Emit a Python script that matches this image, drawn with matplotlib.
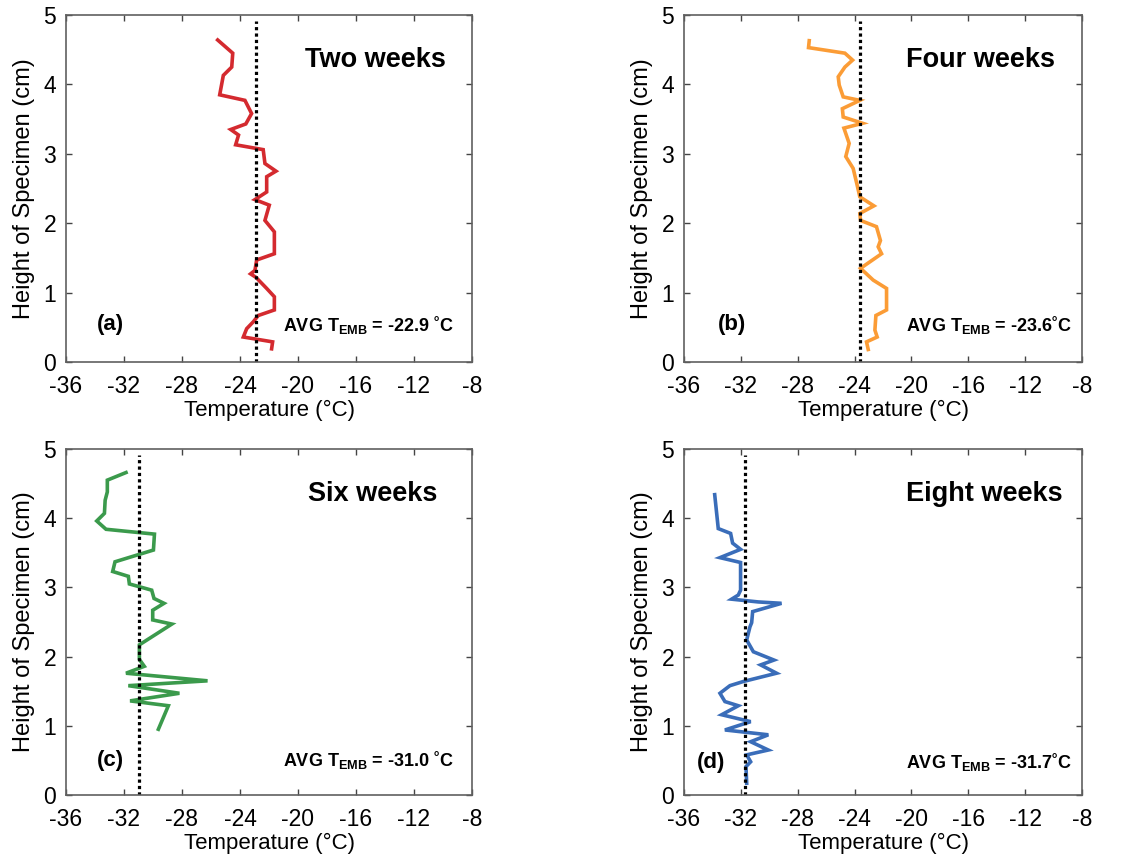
import matplotlib
matplotlib.use("Agg")
import matplotlib.pyplot as plt

plt.rcParams['font.family'] = ['Liberation Sans', 'DejaVu Sans']
plt.rcParams['mathtext.fontset'] = 'custom'
plt.rcParams['mathtext.rm'] = 'Liberation Sans'
plt.rcParams['mathtext.bf'] = 'Liberation Sans:bold'
plt.rcParams['axes.unicode_minus'] = False

# temperature (deg C) vs height (cm)
t_two = [-25.54, -24.5, -24.57, -25.15, -25.4, -23.66, -23.2, -23.6, -24.64, -24.1, -24.3,
         -22.4, -22.28, -21.52, -22.16, -22.16, -22.97, -21.98, -22.28, -21.63, -21.63, -22.85,
         -22.97, -23.27, -22.9, -22.16, -21.63, -21.63, -22.74, -23.08, -23.54, -23.77, -21.75, -21.82]
h_two = [4.64, 4.45, 4.25, 4.13, 3.85, 3.77, 3.58, 3.43, 3.35, 3.27, 3.13,
         3.06, 2.86, 2.75, 2.67, 2.45, 2.34, 2.26, 2.04, 1.875, 1.56, 1.47,
         1.32, 1.27, 1.22, 1.06, 0.94, 0.75, 0.67, 0.58, 0.48, 0.36, 0.29, 0.19]

t_four = [-27.19, -27.24, -24.68, -24.14, -24.68, -25.15, -25.08, -24.8, -23.63, -24.86, -24.8,
          -23.44, -24.75, -24.38, -24.62, -24.1, -23.82, -23.63, -22.64, -23.63, -23.58, -22.46,
          -22.18, -22.34, -22.1, -23.58, -22.69, -21.75, -21.75, -22.5, -22.57, -22.41, -23.16, -23.04]
h_four = [4.63, 4.53, 4.45, 4.35, 4.25, 4.11, 3.99, 3.82, 3.77, 3.65, 3.53,
          3.44, 3.37, 3.15, 2.96, 2.79, 2.55, 2.38, 2.25, 2.14, 2.04, 1.95,
          1.75, 1.66, 1.56, 1.35, 1.18, 1.06, 0.75, 0.67, 0.46, 0.36, 0.29, 0.18]

t_six = [-31.86, -33.15, -33.15, -33.3, -33.35, -33.88, -33.24, -29.9, -29.97, -32.62, -32.78,
         -31.7, -31.63, -30.09, -29.93, -29.24, -30.02, -30.02, -28.7, -30.94, -30.94, -30.6,
         -31.86, -26.24, -31.7, -28.18, -31.58, -28.94, -29.63]
h_six = [4.66, 4.55, 4.38, 4.26, 4.07, 3.96, 3.84, 3.77, 3.54, 3.37, 3.23,
         3.16, 3.05, 2.96, 2.84, 2.77, 2.67, 2.53, 2.47, 2.17, 1.96, 1.86,
         1.76, 1.65, 1.58, 1.47, 1.36, 1.29, 0.95]

t_eight = [-33.84, -33.59, -32.72, -32.58, -32.02, -33.47, -32.02, -32.02, -32.18, -32.65, -30.78,
           -29.14, -31.17, -31.24, -31.36, -31.59, -31.12, -29.67, -30.61, -29.49, -31.83, -32.77,
           -33.47, -33.12, -32.18, -33.35, -31.31, -33.12, -30.07, -31.31, -30.07, -31.59, -31.31,
           -31.64, -31.59]
h_eight = [4.34, 3.85, 3.78, 3.64, 3.55, 3.43, 3.36, 2.96, 2.89, 2.83, 2.79,
           2.77, 2.65, 2.49, 2.43, 2.24, 2.07, 1.95, 1.88, 1.76, 1.64, 1.58,
           1.47, 1.35, 1.29, 1.16, 1.06, 0.94, 0.87, 0.77, 0.65, 0.58, 0.48,
           0.41, 0.17]

avg_temps = [-22.9, -23.6, -31.0, -31.7]
avg_labels = [r'AVG T$_\mathbf{EMB}$ = -22.9 ˚C', r'AVG T$_\mathbf{EMB}$ = -23.6˚C',
              r'AVG T$_\mathbf{EMB}$ = -31.0 ˚C', r'AVG T$_\mathbf{EMB}$ = -31.7˚C']
titles = ['Two weeks', 'Four weeks', 'Six weeks', 'Eight weeks']
letters = ['(a)', '(b)', '(c)', '(d)']
colors = ['#d42a2f', '#fb9c36', '#3b9a4c', '#3a6db9']
xticks = [-36, -32, -28, -24, -20, -16, -12, -8]
yticks = [0, 1, 2, 3, 4, 5]

temps = [t_two, t_four, t_six, t_eight]
heights = [h_two, h_four, h_six, h_eight]

W, H = 1141, 863
fig = plt.figure(figsize=(W / 100, H / 100), dpi=100)

# axes boxes in pixels: left, top, right, bottom
boxes = [(66, 15, 472, 362), (684, 15, 1082, 362), (66, 449, 472, 795), (684, 449, 1082, 795)]
title_x = [0.935, 0.932, 0.914, 0.952]
letter_pos = [(0.076, 0.107), (0.085, 0.107), (0.076, 0.101), (0.033, 0.095)]
avg_x = [0.535, 0.558, 0.535, 0.558]

for i in range(4):
    l, t, r, b = boxes[i]
    ax = fig.add_axes([l / W, 1 - b / H, (r - l) / W, (b - t) / H])
    ax.plot(temps[i], heights[i], color=colors[i], lw=2.6, solid_joinstyle='miter')
    ax.plot([avg_temps[i], avg_temps[i]], [0, 4.92], color='black', lw=2.3,
            linestyle=(0, (1, 1)))
    ax.set_xlim(-36, -8)
    ax.set_ylim(0, 5)
    ax.set_xticks(xticks)
    ax.set_yticks(yticks)
    ax.tick_params(direction='in', top=True, right=True, length=4, width=1,
                   labelsize=16.5, color='#444444')
    ax.tick_params(axis='x', pad=9)
    ax.tick_params(axis='y', pad=7)
    for s in ax.spines.values():
        s.set_color('#606060')
        s.set_linewidth(1.2)
    ax.set_xlabel('Temperature (°C)', fontsize=16, labelpad=2)
    ax.set_ylabel('Height of Specimen (cm)', fontsize=17, labelpad=6)
    ax.text(title_x[i], 0.87, titles[i], transform=ax.transAxes, ha='right', va='center',
            fontsize=19.5, fontweight='bold')
    ax.text(letter_pos[i][0], letter_pos[i][1], letters[i], transform=ax.transAxes,
            ha='left', va='center', fontsize=16, fontweight='bold')
    ax.text(avg_x[i], letter_pos[i][1], avg_labels[i], transform=ax.transAxes,
            ha='left', va='center', fontsize=13, fontweight='bold')

fig.savefig('out.png', dpi=100)
